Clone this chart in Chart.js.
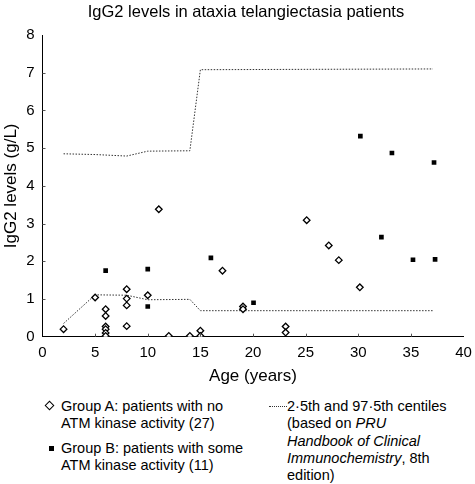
<!DOCTYPE html>
<html>
<head>
<meta charset="utf-8">
<script src="https://cdn.jsdelivr.net/npm/chart.js@4/dist/chart.umd.min.js"></script>
<style>
  html, body { margin: 0; padding: 0; background: #fff; overflow: hidden; }
  #wrap { position: relative; width: 475px; height: 484px; font-family: "Liberation Sans", Arial, sans-serif; color: #000; overflow: hidden; }
  canvas { position: absolute; left: 0; top: 0; }
  .ttl { position: absolute; left: 0; top: 1px; width: 492px; text-align: center; font-size: 16.5px; line-height: 20px; white-space: nowrap; }
  .leg { position: absolute; font-size: 14.5px; line-height: 17.3px; white-space: nowrap; }
  .dia { position: absolute; width: 5px; height: 5px; border: 1.4px solid #000; background: #fff; transform: rotate(45deg); }
  .sq { position: absolute; width: 5px; height: 5px; background: #000; }
  .dl { position: absolute; height: 0; border-top: 1px dotted #333; }
</style>
</head>
<body>
<div id="wrap">
  <canvas id="c" width="475" height="394"></canvas>
  <div class="ttl" id="ttl"></div>
  <span class="dia" style="left:46px; top:402px;"></span>
  <div class="leg" style="left:61px; top:398px;">Group A: patients with no<br>ATM kinase activity (27)</div>
  <span class="sq" style="left:49px; top:446px;"></span>
  <div class="leg" style="left:61px; top:440px;">Group B: patients with some<br>ATM kinase activity (11)</div>
  <span class="dl" style="left:269px; top:406px; width:18px;"></span>
  <div class="leg" style="left:287px; top:398px;">2·5th and 97·5th centiles<br>(based on <i>PRU</i><br><i>Handbook of Clinical</i><br><i>Immunochemistry</i>, 8th<br>edition)</div>
</div>
<script>
const chartTitle = "IgG2 levels in ataxia telangiectasia patients";
const xTitle = "Age (years)";
const yTitle = "IgG2 levels (g/L)";

const groupAAge  = [2, 5, 6, 6, 6, 6, 6, 6, 8, 8, 8, 8, 10, 11.05, 12, 14, 15, 15, 17.1, 19.05, 19.05, 23.1, 23.1, 25.1, 27.2, 28.15, 30.15];
const groupAIgG2 = [0.2, 1.04, 0.73, 0.55, 0.27, 0.2, 0.1, 0.02, 1.26, 1.01, 0.83, 0.28, 1.1, 3.38, 0.02, 0.02, 0.16, 0.02, 1.75, 0.8, 0.73, 0.27, 0.11, 3.09, 2.42, 2.03, 1.31];

const groupBAge  = [6, 10, 10, 16, 20.05, 30.2, 32.2, 33.2, 35.2, 37.2, 37.3];
const groupBIgG2 = [1.75, 1.79, 0.8, 2.09, 0.9, 5.32, 2.64, 4.87, 2.04, 4.62, 2.05];

const lowerAge   = [2, 5, 8, 10, 14, 15, 37.1];
const lowerIgG2  = [0.35, 1.11, 1.1, 0.98, 0.99, 0.69, 0.69];
const upperAge   = [2, 5, 8, 10, 14, 15, 37.1];
const upperIgG2  = [4.85, 4.83, 4.79, 4.92, 4.93, 7.08, 7.1];

const xTicks = [0, 5, 10, 15, 20, 25, 30, 35, 40];
const yTicks = [0, 1, 2, 3, 4, 5, 6, 7, 8];

document.getElementById('ttl').textContent = chartTitle;

const pts = (xs, ys) => xs.map((x, i) => ({x: x, y: ys[i]}));
const FONT = "'Liberation Sans', Arial, sans-serif";

const innerTicks = {
  id: 'innerTicks',
  afterDraw(chart) {
    const ctx = chart.ctx, xs = chart.scales.x, ys = chart.scales.y;
    const b = chart.chartArea.bottom, l = chart.chartArea.left;
    ctx.save();
    ctx.strokeStyle = '#555';
    ctx.lineWidth = 1;
    ctx.beginPath();
    xTicks.slice(1, -1).forEach(v => {
      const px = Math.round(xs.getPixelForValue(v)) + 0.5;
      ctx.moveTo(px, b); ctx.lineTo(px, b - 3);
    });
    yTicks.slice(1, -1).forEach(v => {
      const py = Math.round(ys.getPixelForValue(v)) + 0.5;
      ctx.moveTo(l, py); ctx.lineTo(l + 3, py);
    });
    ctx.stroke();
    ctx.restore();
  }
};

new Chart(document.getElementById('c'), {
  type: 'scatter',
  data: {
    datasets: [
      { label: 'Lower', data: pts(lowerAge, lowerIgG2), showLine: true, borderColor: '#333', borderWidth: 1, borderDash: [1.5, 1.5], pointRadius: 0, fill: false, order: 3 },
      { label: 'Upper', data: pts(upperAge, upperIgG2), showLine: true, borderColor: '#333', borderWidth: 1, borderDash: [1.5, 1.5], pointRadius: 0, fill: false, order: 3 },
      { label: 'Group A', data: pts(groupAAge, groupAIgG2), pointStyle: 'rectRot', pointRadius: 3.3, pointBackgroundColor: '#fff', pointBorderColor: '#000', pointBorderWidth: 1.3, showLine: false, order: 1 },
      { label: 'Group B', data: pts(groupBAge, groupBIgG2), pointStyle: 'rect', pointRadius: 3.3, pointBackgroundColor: '#000', pointBorderColor: '#000', pointBorderWidth: 0, showLine: false, order: 2 }
    ]
  },
  options: {
    responsive: false,
    animation: false,
    events: [],
    layout: { padding: { left: 0, right: 11.5, top: 35, bottom: 0 } },
    plugins: {
      legend: { display: false },
      tooltip: { enabled: false },
      title: { display: false }
    },
    scales: {
      x: {
        type: 'linear', min: 0, max: 40,
        afterBuildTicks: s => { s.ticks = xTicks.map(v => ({value: v})); },
        afterFit: s => { s.height = 57.3; s.paddingLeft = 0; s.paddingRight = 0; },
        grid: { display: false, drawTicks: false },
        border: { display: true, color: '#000', width: 1 },
        ticks: { color: '#000', font: { family: FONT, size: 15 }, padding: 7, maxRotation: 0, autoSkip: false },
        title: { display: true, text: xTitle, color: '#000', font: { family: FONT, size: 17 }, padding: { top: 0, bottom: 7 } }
      },
      y: {
        type: 'linear', min: 0, max: 8,
        afterBuildTicks: s => { s.ticks = yTicks.map(v => ({value: v})); },
        afterFit: s => { s.width = 42.5; s.paddingTop = 0; s.paddingBottom = 0; },
        grid: { display: false, drawTicks: false },
        border: { display: true, color: '#000', width: 1 },
        ticks: { color: '#000', font: { family: FONT, size: 15 }, padding: 8, autoSkip: false },
        title: { display: true, text: yTitle, color: '#000', font: { family: FONT, size: 17 }, padding: { top: 1, bottom: 0 } }
      }
    }
  },
  plugins: [innerTicks]
});
</script>
</body>
</html>
